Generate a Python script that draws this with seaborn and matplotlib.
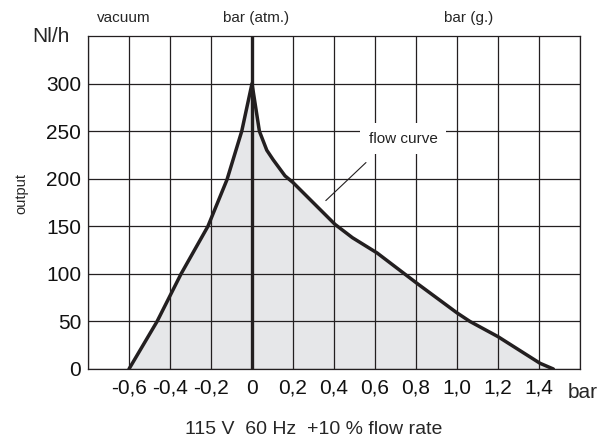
import matplotlib
matplotlib.use('Agg')
import matplotlib.pyplot as plt
import seaborn as sns
import pandas as pd

# flow curve (bar, Nl/h)
pressure = [-0.6, -0.463, -0.346, -0.215, -0.122, -0.05, 0.0, 0.036, 0.072, 0.103, 0.161, 0.2,
            0.405, 0.49, 0.61, 0.805, 1.0, 1.063, 1.2, 1.405, 1.47]
flow = [0, 50, 100, 150, 199, 250, 300, 250, 230, 220, 203, 196,
        152, 138, 122, 90, 59, 50, 34, 6, 0]
x_ticks = [-0.6, -0.4, -0.2, 0, 0.2, 0.4, 0.6, 0.8, 1.0, 1.2, 1.4]
x_labels = ['-0,6', '-0,4', '-0,2', '0', '0,2', '0,4', '0,6', '0,8', '1,0', '1,2', '1,4']
y_ticks = [0, 50, 100, 150, 200, 250, 300]

df = pd.DataFrame({'pressure': pressure, 'flow': flow})

sns.set_style('white')
plt.rcParams['font.family'] = ['Liberation Sans', 'DejaVu Sans']
ink = '#231f20'

fig = plt.figure(figsize=(6.1, 4.46), dpi=100)
ax = fig.add_axes([88 / 610, 1 - 369 / 446, 492 / 610, 333 / 446])

ax.fill_between(df['pressure'], df['flow'], 0, color='#e6e7e9', zorder=1)
ax.axvline(0, color=ink, lw=2.4, zorder=3)
sns.lineplot(data=df, x='pressure', y='flow', color=ink, lw=2.5, ax=ax, zorder=4)

ax.set_xlim(-0.8, 1.6)
ax.set_ylim(0, 350)
ax.set_xticks([-0.8] + x_ticks + [1.6])
ax.set_xticklabels([''] + x_labels + [''])
ax.set_yticks(y_ticks)
ax.grid(True, color=ink, lw=0.9, zorder=2)
ax.set_axisbelow(False)
for s in ax.spines.values():
    s.set_color(ink)
    s.set_linewidth(0.9)
ax.tick_params(length=0, labelsize=15, colors='#111111')
ax.tick_params(axis='y', pad=5)
ax.tick_params(axis='x', pad=7)
ax.set_xlabel('')
ax.set_ylabel('')

ax.text(0.737, 242, 'flow curve', fontsize=11, ha='center', va='center', color='#222222',
        bbox=dict(facecolor='white', edgecolor='none', pad=6), zorder=5)
ax.plot([0.556, 0.36], [217, 177], color=ink, lw=0.8, zorder=5)

fig.text(51 / 610, 1 - 36 / 446, 'Nl/h', fontsize=15, ha='center', va='center')
fig.text(124 / 610, 1 - 18 / 446, 'vacuum', fontsize=11, ha='center', va='center')
fig.text(256 / 610, 1 - 18 / 446, 'bar (atm.)', fontsize=11, ha='center', va='center')
fig.text(469 / 610, 1 - 18 / 446, 'bar (g.)', fontsize=11, ha='center', va='center')
fig.text(21 / 610, 1 - 193 / 446, 'output', fontsize=10.5, rotation=90, ha='center', va='center')
fig.text(583 / 610, 1 - 392 / 446, 'bar', fontsize=15, ha='center', va='center')
fig.text(314 / 610, 1 - 430 / 446, '115 V  60 Hz  +10 % flow rate', fontsize=14,
         ha='center', va='center')

fig.savefig('out.png', dpi=100)
